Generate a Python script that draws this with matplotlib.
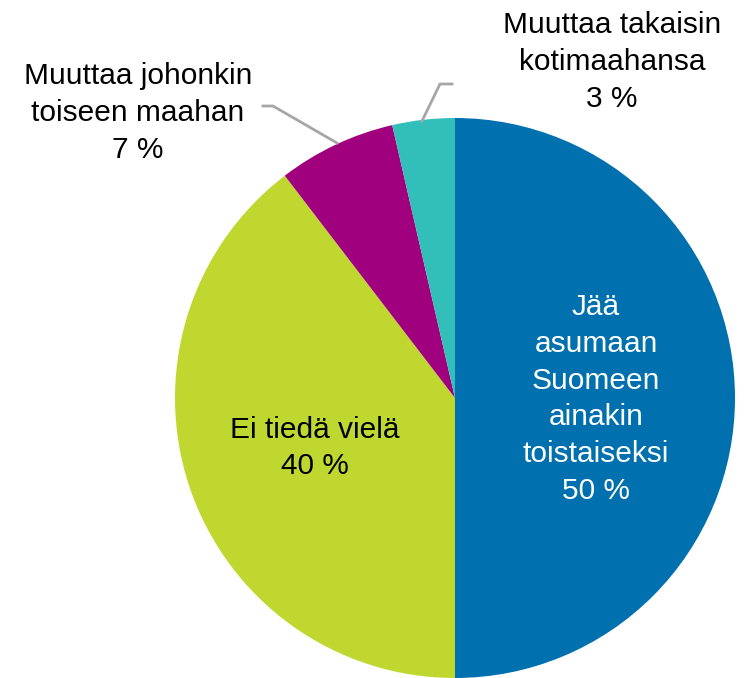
import matplotlib.pyplot as plt

plt.rcParams['font.family'] = ['Liberation Sans', 'DejaVu Sans']

labels = ['Jää\nasumaan\nSuomeen\nainakin\ntoistaiseksi\n50 %',
          'Ei tiedä vielä\n40 %',
          'Muuttaa johonkin\ntoiseen maahan\n7 %',
          'Muuttaa takaisin\nkotimaahansa\n3 %']
values = [50.0, 39.6, 6.8, 3.6]
colors = ['#0070AE', '#C0D72F', '#A0007D', '#33BFB9']

W, H = 744, 678
fig = plt.figure(figsize=(W / 100, H / 100), dpi=100)
ax = fig.add_axes([0, 0, 1, 1])

cx, cy, r = 455, H - 398, 280
ax.pie(values, colors=colors, startangle=90, counterclock=False,
       center=(cx, cy), radius=r, frame=True,
       wedgeprops=dict(linewidth=0))
ax.set_xlim(0, W)
ax.set_ylim(0, H)
ax.set_aspect('equal')
ax.axis('off')

fs = 21.5
ls = 1.4
ax.text(596, H - 399, labels[0], color='white', fontsize=fs, ha='center',
        va='center', linespacing=ls)
ax.text(315, H - 448, labels[1], color='black', fontsize=fs, ha='center',
        va='center', linespacing=ls)
ax.text(138, H - 113, labels[2], color='black', fontsize=fs, ha='center',
        va='center', linespacing=ls)
ax.text(612, H - 62, labels[3], color='black', fontsize=fs, ha='center',
        va='center', linespacing=ls)

# leader lines
ax.plot([263, 273, 337], [H - 106, H - 106, H - 143], color='#A6A6A6', lw=2)
ax.plot([452, 440, 422], [H - 84, H - 84, H - 121], color='#A6A6A6', lw=2)

fig.savefig('out.png', dpi=100)
